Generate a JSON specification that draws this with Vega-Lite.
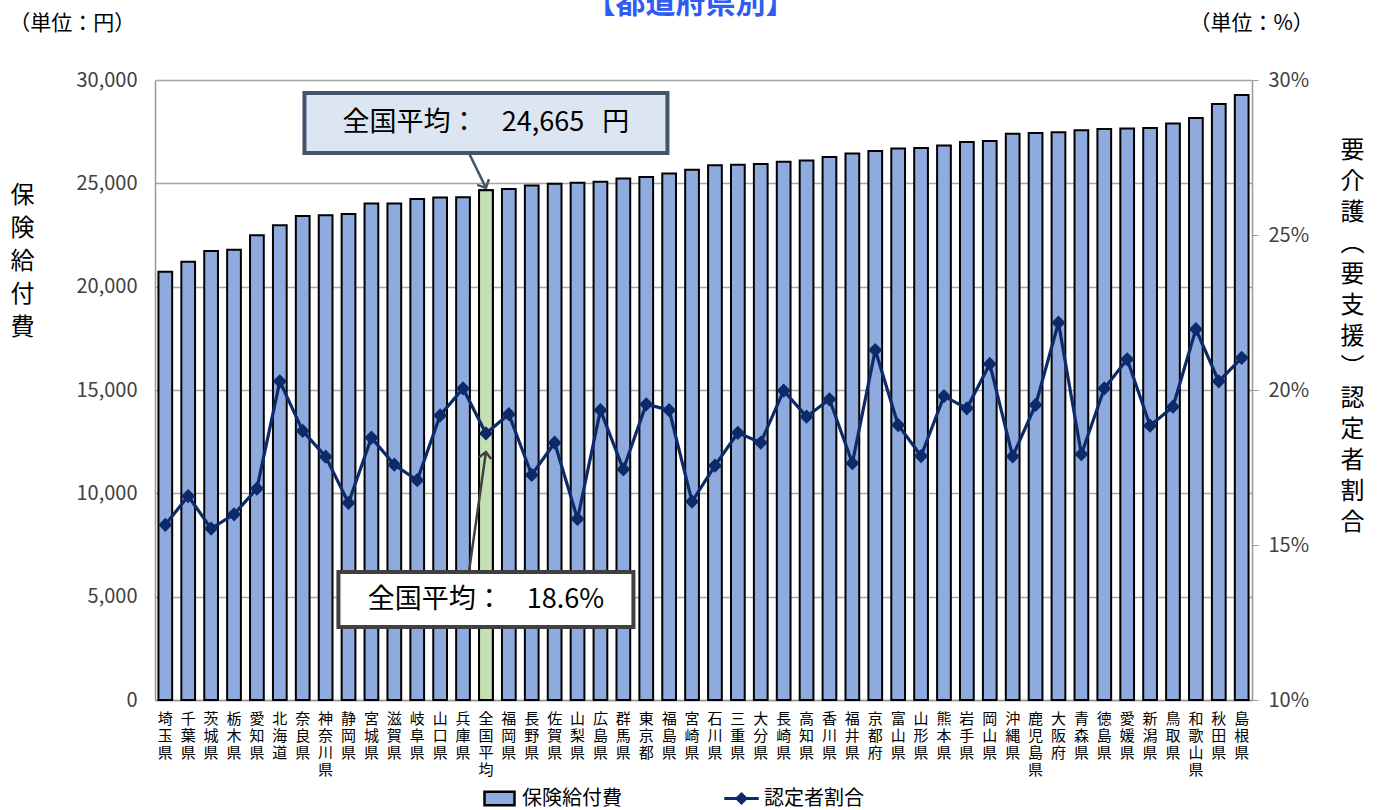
{
  "$schema": "https://vega.github.io/schema/vega-lite/v6.json",
  "width": 1097,
  "height": 620,
  "autosize": {"type": "none"},
  "padding": {"left": 155, "top": 80, "right": 129, "bottom": 110},
  "background": "white",
  "config": {
    "font": "Noto Sans CJK JP",
    "view": {"stroke": null},
    "axis": {"labelFont": "Noto Sans CJK JP", "titleFont": "Noto Sans CJK JP"},
    "legend": {"labelFont": "Noto Sans CJK JP"}
  },
  "title": {
    "text": "【都道府県別】",
    "fontSize": 30,
    "fontWeight": "bold",
    "color": "#2f5cf5",
    "anchor": "middle",
    "frame": "group",
    "baseline": "bottom",
    "offset": 0,
    "dy": 36,
    "dx": -13
  },
  "datasets": {
    "main": [
      {"pref": "埼玉県", "cost": 20720, "rate": 15.65},
      {"pref": "千葉県", "cost": 21210, "rate": 16.58},
      {"pref": "茨城県", "cost": 21730, "rate": 15.53},
      {"pref": "栃木県", "cost": 21790, "rate": 15.99},
      {"pref": "愛知県", "cost": 22490, "rate": 16.82},
      {"pref": "北海道", "cost": 22970, "rate": 20.28},
      {"pref": "奈良県", "cost": 23420, "rate": 18.68},
      {"pref": "神奈川県", "cost": 23450, "rate": 17.85},
      {"pref": "静岡県", "cost": 23520, "rate": 16.36},
      {"pref": "宮城県", "cost": 24020, "rate": 18.46},
      {"pref": "滋賀県", "cost": 24030, "rate": 17.59},
      {"pref": "岐阜県", "cost": 24240, "rate": 17.09},
      {"pref": "山口県", "cost": 24320, "rate": 19.18},
      {"pref": "兵庫県", "cost": 24330, "rate": 20.05},
      {"pref": "全国平均", "cost": 24665, "rate": 18.6},
      {"pref": "福岡県", "cost": 24730, "rate": 19.22},
      {"pref": "長野県", "cost": 24890, "rate": 17.26},
      {"pref": "佐賀県", "cost": 24980, "rate": 18.3},
      {"pref": "山梨県", "cost": 25030, "rate": 15.84},
      {"pref": "広島県", "cost": 25080, "rate": 19.35},
      {"pref": "群馬県", "cost": 25230, "rate": 17.44},
      {"pref": "東京都", "cost": 25310, "rate": 19.54},
      {"pref": "福島県", "cost": 25470, "rate": 19.35},
      {"pref": "宮崎県", "cost": 25660, "rate": 16.4},
      {"pref": "石川県", "cost": 25870, "rate": 17.56},
      {"pref": "三重県", "cost": 25900, "rate": 18.62},
      {"pref": "大分県", "cost": 25940, "rate": 18.3},
      {"pref": "長崎県", "cost": 26050, "rate": 19.98},
      {"pref": "高知県", "cost": 26100, "rate": 19.14},
      {"pref": "香川県", "cost": 26270, "rate": 19.7},
      {"pref": "福井県", "cost": 26440, "rate": 17.64},
      {"pref": "京都府", "cost": 26570, "rate": 21.29},
      {"pref": "富山県", "cost": 26690, "rate": 18.87},
      {"pref": "山形県", "cost": 26710, "rate": 17.87},
      {"pref": "熊本県", "cost": 26830, "rate": 19.8},
      {"pref": "岩手県", "cost": 27000, "rate": 19.41},
      {"pref": "岡山県", "cost": 27050, "rate": 20.84},
      {"pref": "沖縄県", "cost": 27400, "rate": 17.86},
      {"pref": "鹿児島県", "cost": 27440, "rate": 19.52},
      {"pref": "大阪府", "cost": 27470, "rate": 22.17},
      {"pref": "青森県", "cost": 27570, "rate": 17.93},
      {"pref": "徳島県", "cost": 27630, "rate": 20.05},
      {"pref": "愛媛県", "cost": 27650, "rate": 20.99},
      {"pref": "新潟県", "cost": 27680, "rate": 18.85},
      {"pref": "鳥取県", "cost": 27890, "rate": 19.46},
      {"pref": "和歌山県", "cost": 28160, "rate": 21.96},
      {"pref": "秋田県", "cost": 28840, "rate": 20.28},
      {"pref": "島根県", "cost": 29270, "rate": 21.04}
    ]
  },
  "layer": [
    {
      "layer": [
        {
          "data": {"name": "main"},
          "mark": {"type": "bar", "stroke": "#000000", "strokeWidth": 2},
          "encoding": {
            "x": {
              "field": "pref",
              "type": "nominal",
              "sort": null,
              "scale": {"paddingInner": 0.4, "paddingOuter": 0.15},
              "axis": {
                "title": null,
                "labelAngle": 0,
                "labelExpr": "split(datum.label, '')",
                "labelFontSize": 15,
                "labelLineHeight": 17,
                "labelColor": "#000000",
                "labelPadding": 11,
                "labelBaseline": "top",
                "ticks": false,
                "domainColor": "#999999",
                "domainWidth": 1.5,
                "grid": false
              }
            },
            "y": {
              "field": "cost",
              "type": "quantitative",
              "scale": {"domain": [0, 30000]},
              "axis": {
                "orient": "left",
                "title": ["保", "険", "給", "付", "費"],
                "titleAngle": 0,
                "titleFontSize": 24,
                "titleFontWeight": "normal",
                "titleColor": "#000000",
                "titleLineHeight": 33,
                "titleAlign": "center",
                "titleBaseline": "top",
                "titleX": -133,
                "titleY": 103,
                "values": [0, 5000, 10000, 15000, 20000, 25000, 30000],
                "labelExpr": "format(datum.value, ',')",
                "labelFontSize": 20,
                "labelColor": "#404040",
                "labelPadding": 18,
                "ticks": false,
                "domainColor": "#999999",
                "domainWidth": 1.5,
                "grid": true,
                "gridColor": "#a6a6a6",
                "gridWidth": 1.5
              }
            },
            "fill": {
              "datum": "保険給付費",
              "type": "nominal",
              "scale": {"range": ["#8faadc"]},
              "legend": {
                "title": null,
                "orient": "none",
                "legendX": 328,
                "legendY": 702,
                "labelFontSize": 20,
                "labelColor": "#000000",
                "labelOffset": 6,
                "symbolSize": 900,
                "symbolType": "M -1 -0.45 L 1 -0.45 L 1 0.45 L -1 0.45 Z",
                "symbolStrokeColor": "#000000",
                "symbolStrokeWidth": 2.5,
                "symbolOpacity": 1
              }
            }
          }
        },
        {
          "data": {"name": "main"},
          "transform": [{"filter": "datum.pref === '全国平均'"}],
          "mark": {"type": "bar", "fill": "#c5e0b4", "stroke": "#000000", "strokeWidth": 2},
          "encoding": {
            "x": {"field": "pref", "type": "nominal", "sort": null},
            "y": {"field": "cost", "type": "quantitative"}
          }
        },
        {
          "data": {"values": [{}]},
          "mark": {"type": "rule", "stroke": "#44546a", "strokeWidth": 2.5, "xOffset": -17},
          "encoding": {
            "x": {"datum": "全国平均"},
            "x2": {"datum": "全国平均"},
            "y": {"datum": 26470},
            "y2": {"datum": 24780}
          }
        },
        {
          "data": {"values": [{}]},
          "mark": {"type": "point", "shape": "M -1 -1 L 0 0 L 1 -1", "filled": false, "stroke": "#44546a", "strokeWidth": 2.5, "size": 170, "angle": -26, "opacity": 1},
          "encoding": {
            "x": {"datum": "全国平均"},
            "y": {"datum": 24780}
          }
        },
        {
          "data": {"values": [{}]},
          "mark": {"type": "bar", "width": 363, "fill": "#dce6f2", "stroke": "#44546a", "strokeWidth": 4},
          "encoding": {
            "x": {"datum": "全国平均"},
            "y": {"datum": 26470},
            "y2": {"datum": 29370}
          }
        },
        {
          "data": {"values": [{}]},
          "mark": {"type": "text", "text": "全国平均：\u00a0\u00a0\u00a0\u00a024,665\u00a0\u00a0\u00a0円", "fontSize": 27, "color": "#000000", "align": "center", "baseline": "middle"},
          "encoding": {
            "x": {"datum": "全国平均"},
            "y": {"datum": 27920}
          }
        },
        {
          "data": {"values": [{}]},
          "mark": {"type": "rule", "stroke": "#404040", "strokeWidth": 2.5, "xOffset": -17},
          "encoding": {
            "x": {"datum": "全国平均"},
            "x2": {"datum": "全国平均"},
            "y": {"datum": 6194},
            "y2": {"datum": 12000}
          }
        },
        {
          "data": {"values": [{}]},
          "mark": {"type": "point", "shape": "M -1 1 L 0 0 L 1 1", "filled": false, "stroke": "#404040", "strokeWidth": 2.5, "size": 150, "angle": 8, "opacity": 1},
          "encoding": {
            "x": {"datum": "全国平均"},
            "y": {"datum": 12000}
          }
        },
        {
          "data": {"values": [{}]},
          "mark": {"type": "bar", "width": 295, "fill": "#ffffff", "stroke": "#404040", "strokeWidth": 4},
          "encoding": {
            "x": {"datum": "全国平均"},
            "y": {"datum": 3532},
            "y2": {"datum": 6194}
          }
        },
        {
          "data": {"values": [{}]},
          "mark": {"type": "text", "text": "全国平均：\u00a0\u00a0\u00a0\u00a018.6%", "fontSize": 27, "color": "#000000", "align": "center", "baseline": "middle"},
          "encoding": {
            "x": {"datum": "全国平均"},
            "y": {"datum": 4840}
          }
        },
        {
          "data": {"values": [{}]},
          "mark": {"type": "text", "text": "（単位：円）", "fontSize": 21, "color": "#000000", "align": "center", "baseline": "middle", "dx": -93},
          "encoding": {
            "x": {"datum": "埼玉県"},
            "y": {"datum": 32700}
          }
        },
        {
          "data": {"values": [{}]},
          "mark": {"type": "text", "text": "（単位：%）", "fontSize": 21, "color": "#000000", "align": "center", "baseline": "middle", "dx": 10},
          "encoding": {
            "x": {"datum": "島根県"},
            "y": {"datum": 32700}
          }
        }
      ]
    },
    {
      "layer": [
        {
          "data": {"name": "main"},
          "mark": {"type": "line", "strokeWidth": 3.2},
          "encoding": {
            "x": {"field": "pref", "type": "nominal", "sort": null},
            "y": {
              "field": "rate",
              "type": "quantitative",
              "scale": {"domain": [10, 30]},
              "axis": {
                "orient": "right",
                "title": ["要", "介", "護", "︵", "要", "支", "援", "︶", "認", "定", "者", "割", "合"],
                "titleAngle": 0,
                "titleFontSize": 24,
                "titleFontWeight": "normal",
                "titleColor": "#000000",
                "titleLineHeight": 31,
                "titleAlign": "center",
                "titleBaseline": "top",
                "titleX": 100,
                "titleY": 58,
                "values": [10, 15, 20, 25, 30],
                "labelExpr": "datum.value + '%'",
                "labelFontSize": 20,
                "labelColor": "#404040",
                "labelPadding": 10,
                "ticks": true,
                "tickSize": 6,
                "tickColor": "#999999",
                "domainColor": "#999999",
                "domainWidth": 1.5,
                "grid": false
              }
            },
            "stroke": {
              "datum": "認定者割合",
              "type": "nominal",
              "scale": {"range": ["#0d2a6b"]},
              "legend": {
                "title": null,
                "orient": "none",
                "legendX": 570,
                "legendY": 702,
                "labelFontSize": 20,
                "labelColor": "#000000",
                "labelOffset": 6,
                "symbolSize": 900,
                "symbolType": "M -1.15 0 L 1.15 0 M 0 -0.3 L 0.3 0 L 0 0.3 L -0.3 0 Z",
                "symbolFillColor": "#0d2a6b",
                "symbolStrokeColor": "#0d2a6b",
                "symbolStrokeWidth": 3,
                "symbolOpacity": 1
              }
            }
          }
        },
        {
          "data": {"name": "main"},
          "mark": {"type": "point", "shape": "diamond", "filled": true, "fill": "#0d2a6b", "size": 130, "opacity": 1},
          "encoding": {
            "x": {"field": "pref", "type": "nominal", "sort": null},
            "y": {"field": "rate", "type": "quantitative"},
            "stroke": {"datum": "認定者割合", "type": "nominal"}
          }
        }
      ]
    }
  ],
  "resolve": {"scale": {"y": "independent"}}
}
